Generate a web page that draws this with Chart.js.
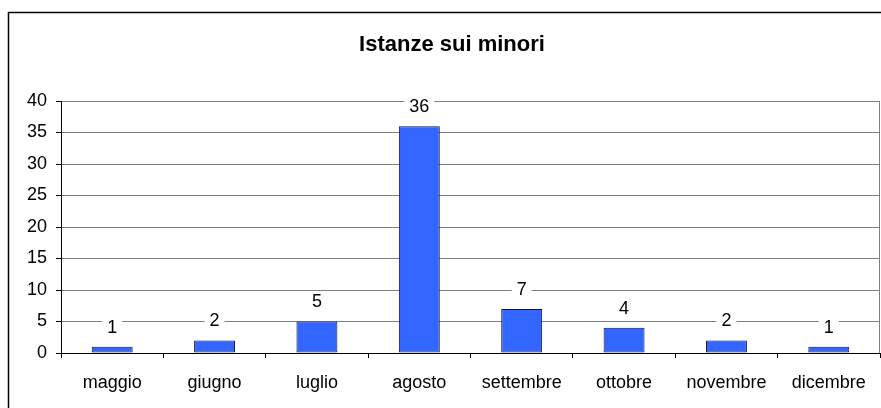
<!DOCTYPE html>
<html>
<head>
<meta charset="utf-8">
<script src="https://cdn.jsdelivr.net/npm/chart.js@4.4.1/dist/chart.umd.min.js"></script>
<style>
html,body{margin:0;padding:0;background:#fff;}
#wrap{width:881px;height:408px;position:relative;}
</style>
</head>
<body>
<div id="wrap"><canvas id="c" width="881" height="408"></canvas></div>
<script>
const chartTitle = "Istanze sui minori";
const categories = ["maggio","giugno","luglio","agosto","settembre","ottobre","novembre","dicembre"];
const values = [1, 2, 5, 36, 7, 4, 2, 1];
const yTicks = [0, 5, 10, 15, 20, 25, 30, 35, 40];

const FONT = "'Liberation Sans', Arial, sans-serif";

const framePlugin = {
  id: 'frame',
  beforeDraw(chart) {
    const ctx = chart.ctx;
    ctx.save();
    ctx.fillStyle = '#fff';
    ctx.fillRect(0, 0, chart.width, chart.height);
    ctx.strokeStyle = '#000';
    ctx.lineWidth = 1.5;
    ctx.beginPath();
    ctx.moveTo(8.5, chart.height + 5);
    ctx.lineTo(8.5, 12.5);
    ctx.lineTo(chart.width + 5, 12.5);
    ctx.stroke();
    ctx.fillStyle = '#000';
    ctx.font = "bold 22px " + FONT;
    ctx.textAlign = 'center';
    ctx.textBaseline = 'middle';
    ctx.fillText(chartTitle, 452, 45);
    ctx.restore();
  },
  beforeDatasetsDraw(chart) {
    const ctx = chart.ctx, a = chart.chartArea;
    ctx.save();
    ctx.strokeStyle = '#808080';
    ctx.lineWidth = 1;
    ctx.beginPath();
    ctx.moveTo(a.right - 0.5, a.top);
    ctx.lineTo(a.right - 0.5, a.bottom);
    ctx.stroke();
    ctx.restore();
  },
  afterDatasetsDraw(chart) {
    const ctx = chart.ctx;
    const meta = chart.getDatasetMeta(0);
    ctx.save();
    ctx.font = "18px " + FONT;
    ctx.textAlign = 'center';
    ctx.textBaseline = 'middle';
    meta.data.forEach((bar, i) => {
      const txt = String(chart.data.datasets[0].data[i]);
      const cy = bar.y - 20;
      const w = ctx.measureText(txt).width + 10;
      ctx.fillStyle = '#fff';
      ctx.fillRect(bar.x - w / 2, cy - 10, w, 20);
      ctx.fillStyle = '#000';
      ctx.fillText(txt, bar.x, cy + 1);
    });
    ctx.restore();
  }
};

new Chart(document.getElementById('c'), {
  type: 'bar',
  data: {
    labels: categories,
    datasets: [{
      data: values,
      backgroundColor: '#3366FF',
      borderColor: '#10103a',
      borderWidth: 1,
      borderSkipped: false,
      barPercentage: 0.4,
      categoryPercentage: 1.0
    }]
  },
  options: {
    responsive: false,
    animation: false,
    devicePixelRatio: 1,
    layout: { padding: { top: 101, right: 1, left: 0, bottom: 0 } },
    plugins: {
      legend: { display: false },
      title: { display: false },
      tooltip: { enabled: false }
    },
    scales: {
      x: {
        offset: true,
        grid: {
          offset: true,
          drawOnChartArea: false,
          drawTicks: true,
          tickLength: 5,
          tickColor: '#000'
        },
        border: { display: true, color: '#000', width: 1 },
        ticks: {
          color: '#000',
          font: { family: FONT, size: 18 },
          padding: 14,
          maxRotation: 0,
          autoSkip: false
        },
        afterFit(s) { s.height = 55; }
      },
      y: {
        min: 0,
        max: 40,
        afterBuildTicks(s) { s.ticks = yTicks.map(v => ({ value: v })); },
        grid: {
          color: '#808080',
          drawTicks: true,
          tickLength: 5,
          tickColor: '#000'
        },
        border: { display: true, color: '#000', width: 1 },
        ticks: {
          color: '#000',
          font: { family: FONT, size: 18 },
          padding: 9
        },
        afterFit(s) { s.width = 61; }
      }
    }
  },
  plugins: [framePlugin]
});
</script>
</body>
</html>
